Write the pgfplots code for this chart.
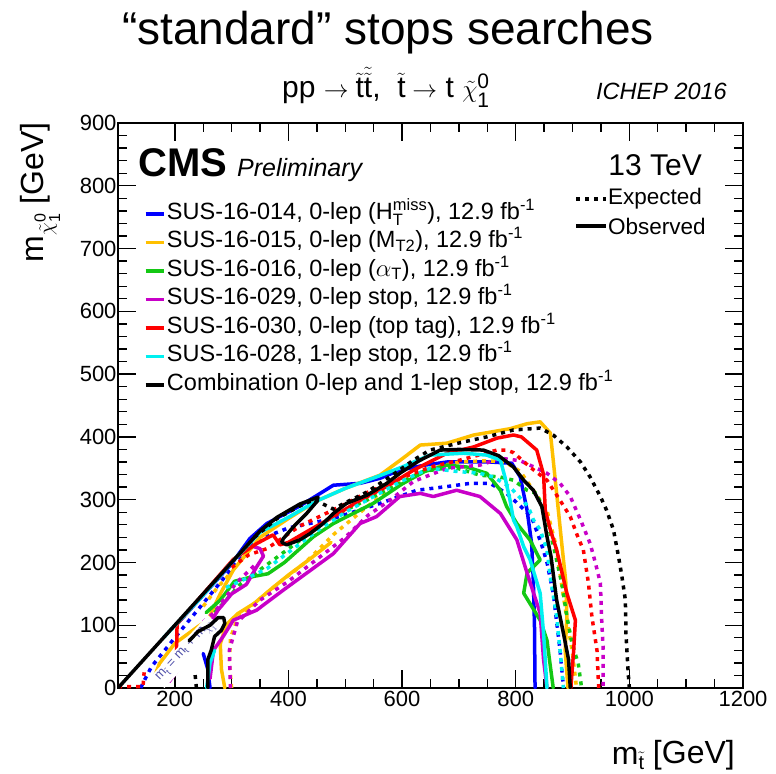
\documentclass[border=0pt]{standalone}
\usepackage{amsmath}
\usepackage{fontspec}
\setmainfont{Liberation Sans}
\usepackage{pgfplots}
\pgfplotsset{compat=1.18}
\definecolor{cblue}{RGB}{0,0,255}
\definecolor{cyellow}{RGB}{255,192,0}
\definecolor{cgreen}{RGB}{20,200,20}
\definecolor{cmag}{RGB}{200,0,200}
\definecolor{cred}{RGB}{255,0,0}
\definecolor{ccyan}{RGB}{0,240,240}
\definecolor{ctext}{RGB}{80,80,170}
\pgfplotsset{
  obs/.style={line width=3.5bp, line join=round, line cap=round},
  exp/.style={line width=3.5bp, line cap=butt, dash pattern=on 4bp off 5bp},
}
\begin{document}
\begin{tikzpicture}
\path[use as bounding box] (0,0) rectangle (776bp,774bp);
\begin{axis}[
  at={(118bp,86bp)}, anchor=south west,
  scale only axis, width=625bp, height=565bp,
  xmin=100, xmax=1200, ymin=0, ymax=900,
  xtick={200,400,...,1200}, minor x tick num=3,
  ytick={0,100,...,900}, minor y tick num=4,
  tick align=inside, tick pos=both,
  xticklabel pos=lower, yticklabel pos=left,
  major tick length=18bp, minor tick length=9bp,
  axis line style={line width=1.4bp},
  every tick/.style={line width=1.4bp, black},
  tick label style={font=\fontsize{22bp}{26bp}\selectfont},
  yticklabel style={xshift=2bp},
  /pgf/number format/assume math mode=true,
  /pgf/number format/1000 sep={},
  legend cell align=left,
  legend image code/.code={\draw[#1, line width=3.5bp] (0bp,0bp) -- (18bp,0bp);},
  legend style={
    at={(rel axis cs:0.0416,0.858)}, anchor=north west,
    draw=none, fill=none, inner sep=0pt, outer sep=0pt,
    font=\fontsize{23.5bp}{27bp}\selectfont,
    row sep=7bp, column sep=1.5bp,
    nodes={inner sep=0pt, text height=16bp, text depth=5.5bp},
  },
]
% ---------- blue: SUS-16-014
\addplot[cblue, exp, forget plot] coordinates {(140,0)(144,8)(159,34)(200,80)(250,135)(300,190)(344,235)(400,255)(479,270)(530,285)(561,294)(626,315)(680,321)(720,326)(755,326)(784,310)(808,290)(828,272)(845,230)(855,200)(866,151)(878,60)(884,0)};
\addplot[cblue, obs, forget plot] coordinates {(262,0)(258,30)(250,55)};
\addplot[cblue, obs, forget plot] coordinates {(200,98)(250,148)(300,198)(332,238)(362,262)(420,290)(447,305)(479,323)(526,326)(561,334)(596,347)(640,355)(679,360)(755,360)(793,358)(808,336)(820,283)(828,230)(831,170)(833,100)(834,0)};
% ---------- yellow: SUS-16-015
\addplot[cyellow, exp, forget plot] coordinates {(250,130)(275,160)(295,180)};
\addplot[cyellow, exp, forget plot] coordinates {(300,0)(296,40)(298,80)(310,110)(340,135)(380,165)(430,200)(480,245)(540,290)(600,330)(650,350)(700,360)(750,362)(781,360)(808,345)(831,315)(855,283)(870,230)(880,170)(890,110)(900,55)(907,0)};
\addplot[cyellow, obs, forget plot] coordinates {(165,20)(173,39)(200,71)(241,98)(258,108)(280,150)(303,188)(350,240)(400,270)(450,298)(500,318)(561,339)(600,365)(632,387)(679,390)(726,403)(790,413)(820,421)(843,424)(861,406)(866,363)(872,310)(881,230)(888,170)(890,114)(887,60)(892,0)};
\addplot[cyellow, obs, forget plot] coordinates {(288,0)(282,30)(280,70)(290,100)(310,118)(340,135)(370,158)(400,180)(440,207)(475,232)};
% ---------- green: SUS-16-016
\addplot[cgreen, exp, forget plot] coordinates {(270,120)(315,165)(360,195)(420,235)(480,275)(540,300)(596,326)(637,345)(690,352)(737,339)(773,336)(796,331)(820,315)(837,310)(855,268)(868,220)(881,167)(890,114)(899,71)(910,39)(916,0)};
\addplot[cgreen, obs, forget plot] coordinates {(255,120)(280,140)(305,170)(340,178)(364,182)(393,200)(444,241)(479,262)(549,294)(600,325)(640,345)(679,355)(714,352)(749,342)(773,315)(784,289)(802,262)(825,236)(843,204)(820,183)(814,151)(843,108)(855,76)(861,34)(866,0)};
% ---------- magenta: SUS-16-029
\addplot[cmag, exp, forget plot] coordinates {(250,105)(270,121)(308,167)(340,195)};
\addplot[cmag, exp, forget plot] coordinates {(298,0)(296,60)(310,105)(350,140)(400,170)(450,205)(500,240)(540,275)(580,300)(620,329)(679,350)(737,355)(773,366)(808,362)(837,350)(855,342)(878,326)(896,305)(914,268)(931,230)(940,200)(949,167)(951,114)(954,60)(954,0)};
\addplot[cmag, obs, forget plot] coordinates {(190,10)(223,50)(258,98)(276,124)(300,150)(326,165)(344,193)(356,210)(350,222)(336,226)};
\addplot[cmag, obs, forget plot] coordinates {(262,15)(268,60)(285,82)(303,108)(344,124)(391,156)(432,183)(479,214)(526,262)(555,273)(596,305)(632,310)(655,305)(696,315)(737,305)(773,278)(802,236)(820,183)(843,119)(849,45)(855,0)};
% ---------- red: SUS-16-030
\addplot[cred, exp, forget plot] coordinates {(100,2)(144,2)(146,25)};
\addplot[cred, exp, forget plot] coordinates {(300,192)(330,212)(362,222)(420,258)(491,289)(540,312)(600,335)(650,352)(702,363)(767,379)(784,379)(796,375)(825,352)(855,331)(878,299)(896,273)(907,246)(919,220)(928,167)(934,114)(943,60)(946,0)};
\addplot[cred, obs, forget plot] coordinates {(203,55)(204,102)(250,150)(303,205)(344,230)(373,244)(385,228)(400,232)(438,252)(479,273)(526,299)(573,321)(620,347)(679,374)(726,384)(767,398)(796,403)(810,400)(837,379)(849,340)(852,283)(861,252)(872,220)(890,151)(905,108)(902,60)(897,0)};
% ---------- cyan: SUS-16-028
\addplot[ccyan, exp, forget plot] coordinates {(290,160)(327,175)(362,190)(397,214)(450,250)(500,280)(560,310)(600,330)(649,350)(696,345)(737,342)(761,336)(790,320)(822,289)(831,268)(843,252)(855,220)(861,177)(872,114)(878,60)(884,0)};
\addplot[ccyan, obs, forget plot] coordinates {(256,0)(262,40)(270,60)};
\addplot[ccyan, obs, forget plot] coordinates {(180,80)(250,148)(300,200)(350,248)(400,272)(450,298)(500,318)(560,338)(600,352)(649,371)(708,374)(749,371)(773,363)(781,336)(790,299)(796,268)(802,257)(814,225)(825,205)(843,151)(849,87)(855,0)};
% kinematic line label on a white patch
\node[rotate=47, text=ctext, fill=white, font=\fontsize{13bp}{14bp}\selectfont, inner sep=2pt] at (axis cs:220,58) {m$_{\tilde{\text{t}}}$ = m$_{\text{t}}$ + m$_{\tilde{\chi}^{0}_{1}}$};
% ---------- black: combination
\addplot[black, exp, forget plot] coordinates {(238,0)(235,28)};
\addplot[black, exp, forget plot] coordinates {(340,240)(380,270)(420,290)(445,300)(479,285)(502,296)(538,312)(573,333)(600,350)(620,363)(649,379)(708,392)(749,400)(796,411)(843,414)(866,403)(890,384)(914,360)(931,336)(949,305)(960,283)(972,252)(981,209)(987,177)(993,140)(994,87)(998,23)(1000,0)};
\addplot[black, obs, forget plot] coordinates {(258,0)(258,45)(264,60)(270,82)(282,92)(288,103)(286,112)(276,112)(262,100)(241,90)(225,75)};
\addplot[black, obs, forget plot] coordinates {(100,0)(150,50)(200,100)(250,150)(300,200)(350,250)(380,272)(420,293)(452,304)(450,297)(432,278)(409,257)(391,238)(388,232)(397,228)(420,236)(438,246)(461,262)(479,278)(502,294)(538,307)(573,326)(596,342)(630,362)(667,379)(700,380)(743,379)(770,370)(796,352)(815,330)(831,315)(846,289)(855,241)(862,210)(872,140)(884,87)(893,45)(896,0)};
% legend
\addlegendimage{cblue}
\addlegendentry{SUS-16-014, 0-lep (H$^{\text{miss}}_{\text{T}}$), 12.9 fb$^{\text{-1}}$}
\addlegendimage{cyellow}
\addlegendentry{SUS-16-015, 0-lep (M$_{\text{T2}}$), 12.9 fb$^{\text{-1}}$}
\addlegendimage{cgreen}
\addlegendentry{SUS-16-016, 0-lep ($\alpha_{\text{T}}$), 12.9 fb$^{\text{-1}}$}
\addlegendimage{cmag}
\addlegendentry{SUS-16-029, 0-lep stop, 12.9 fb$^{\text{-1}}$}
\addlegendimage{cred}
\addlegendentry{SUS-16-030, 0-lep (top tag), 12.9 fb$^{\text{-1}}$}
\addlegendimage{ccyan}
\addlegendentry{SUS-16-028, 1-lep stop, 12.9 fb$^{\text{-1}}$}
\addlegendimage{black}
\addlegendentry{Combination 0-lep and 1-lep stop, 12.9 fb$^{\text{-1}}$}
\end{axis}
% titles and labels
\node[anchor=base, inner sep=0pt, font=\fontsize{46bp}{50bp}\selectfont] at (388bp,729bp) {“standard” stops searches};
\node[anchor=base west, inner sep=0pt, font=\fontsize{30bp}{34bp}\selectfont] at (282bp,676bp) {pp $\rightarrow \tilde{\text{t}}\tilde{\tilde{\text{t}}}$,\ \ $\tilde{\text{t}}\rightarrow$ t $\tilde{\chi}^{\text{0}}_{\text{1}}$};
\node[anchor=base east, inner sep=0pt, font=\itshape\fontsize{23.5bp}{26bp}\selectfont] at (727bp,674bp) {ICHEP 2016};
\node[anchor=base west, inner sep=0pt, font=\bfseries\fontsize{40bp}{44bp}\selectfont] at (138bp,597bp) {CMS};
\node[anchor=base west, inner sep=0pt, font=\itshape\fontsize{25bp}{28bp}\selectfont] at (237bp,597bp) {Preliminary};
\node[anchor=base east, inner sep=0pt, font=\fontsize{30bp}{34bp}\selectfont] at (702bp,598bp) {13 TeV};
\draw[line width=3.5bp, line cap=butt, dash pattern=on 4bp off 5bp] (576bp,575bp) -- (606bp,575bp);
\draw[line width=3.5bp] (576bp,548bp) -- (606bp,548bp);
\node[anchor=west, inner sep=0pt, font=\fontsize{22.5bp}{26bp}\selectfont] at (608bp,575bp) {Expected};
\node[anchor=west, inner sep=0pt, font=\fontsize{22.5bp}{26bp}\selectfont] at (608bp,548bp) {Observed};
\node[rotate=90, anchor=base east, inner sep=0pt, font=\fontsize{32bp}{36bp}\selectfont] at (43bp,652bp) {m$_{\tilde{\chi}^{\text{0}}_{\text{1}}}$ [GeV]};
\node[anchor=base east, inner sep=0pt, font=\fontsize{32bp}{36bp}\selectfont] at (735bp,10bp) {m\raisebox{-0.17em}{\fontsize{20bp}{20bp}\selectfont$\tilde{\text{t}}$} [GeV]};
\end{tikzpicture}
\end{document}
